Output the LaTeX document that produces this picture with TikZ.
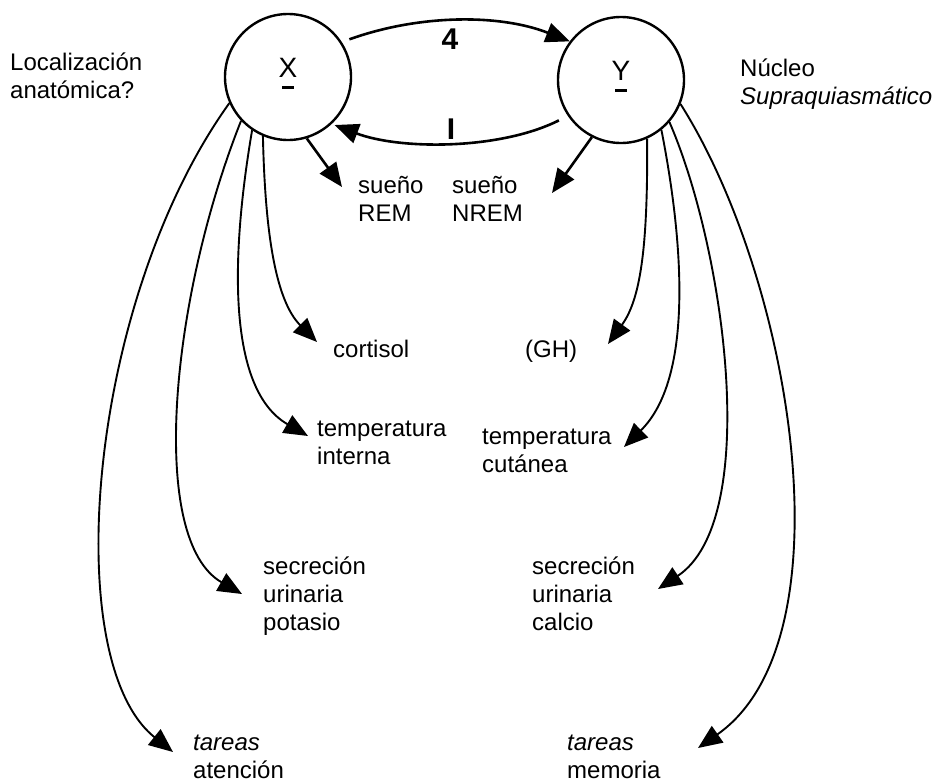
\documentclass[tikz,border=0pt]{standalone}
\usepackage{fontspec}
\setmainfont{Liberation Sans}
\usetikzlibrary{arrows.meta}
\newcommand\circlab[1]{\begin{tabular}{@{}c@{}}#1\\[-19pt]\rule{12pt}{2.5pt}\end{tabular}}
\begin{document}
\begin{tikzpicture}[x=1pt,y=-1pt,
  txt/.style={anchor=base west,inner sep=0pt,align=left,font=\fontsize{24}{28}\selectfont},
  circ/.style={circle,draw,line width=2.4pt,minimum size=126pt,inner sep=0pt,font=\fontsize{28}{30}\selectfont},
  num/.style={inner sep=0pt,font=\fontsize{30}{30}\selectfont\bfseries},
  arr/.style={line width=1.9pt,-{Triangle[length=24pt,width=20pt]}},
  thick arr/.style={line width=2.6pt,-{Triangle[length=24pt,width=20pt]}}]
\useasboundingbox (0,0) rectangle (940,782);

% circles
\node[circ] (X) at (288,77) {\raisebox{-8pt}{\circlab{X}}};
\node[circ] (Y) at (621,80) {\raisebox{-8pt}{\circlab{Y}}};

% labels of circles (anchor = baseline of last line)
\node[txt] (loc) at (10,98) {Localización\\anatómica?};
\node[txt] (nuc) at (740,104) {Núcleo\\\textit{Supraquiasmático}};

% numbers on arcs
\node[num] (n4) at (450,39) {4};
\node[num] (n1) at (451,129) {I};

% targets
\node[txt] (rem) at (358,221) {sueño\\REM};
\node[txt] (nrem) at (452,221) {sueño\\NREM};
\node[txt] (cort) at (333,357) {cortisol};
\node[txt] (gh) at (525,357) {(GH)};
\node[txt] (tint) at (317,464) {temperatura\\interna};
\node[txt] (tcut) at (482,472) {temperatura\\cutánea};
\node[txt] (pot) at (263,630) {secreción\\urinaria\\potasio};
\node[txt] (cal) at (532,630) {secreción\\urinaria\\calcio};
\node[txt] (aten) at (193,778) {\textit{tareas}\\atención};
\node[txt] (mem) at (567,778) {\textit{tareas}\\memoria};

% arrow tips
\coordinate (tREM) at (342,187);
\coordinate (tNREM) at (552,193);
\coordinate (tCort) at (317,342);
\coordinate (tGH) at (608,344);
\coordinate (tInt) at (308,436);
\coordinate (tCut) at (624,447);
\coordinate (tPot) at (242,594);
\coordinate (tCal) at (658,589);
\coordinate (tAt) at (173,752);
\coordinate (tMem) at (698,748);

% arcs between circles
\draw[thick arr,shorten <=8pt] (X.33) .. controls (420,14) and (500,14) .. (Y.143);
\draw[thick arr,shorten <=10pt,shorten >=3pt] (Y.214) .. controls (500,150) and (400,150) .. (X.313);

% straight arrows
\draw[thick arr] (X.287) -- (tREM);
\draw[thick arr] (Y.243) -- (tNREM);

% curves from X
\draw[arr] (X.247) .. controls (265,230) and (275,300) .. (tCort);
\draw[arr] (X.236) .. controls (230,260) and (228,390) .. (tInt);
\draw[arr] (X.223) .. controls (170,300) and (148,540) .. (tPot);
\draw[arr] (X.204) .. controls (88,300) and (58,660) .. (tAt);

% curves from Y
\draw[arr] (Y.294) .. controls (648,250) and (640,300) .. (tGH);
\draw[arr] (Y.309) .. controls (685,250) and (692,380) .. (tCut);
\draw[arr] (Y.319) .. controls (725,250) and (762,520) .. (tCal);
\draw[arr] (Y.338) .. controls (792,280) and (852,640) .. (tMem);
\end{tikzpicture}
\end{document}
